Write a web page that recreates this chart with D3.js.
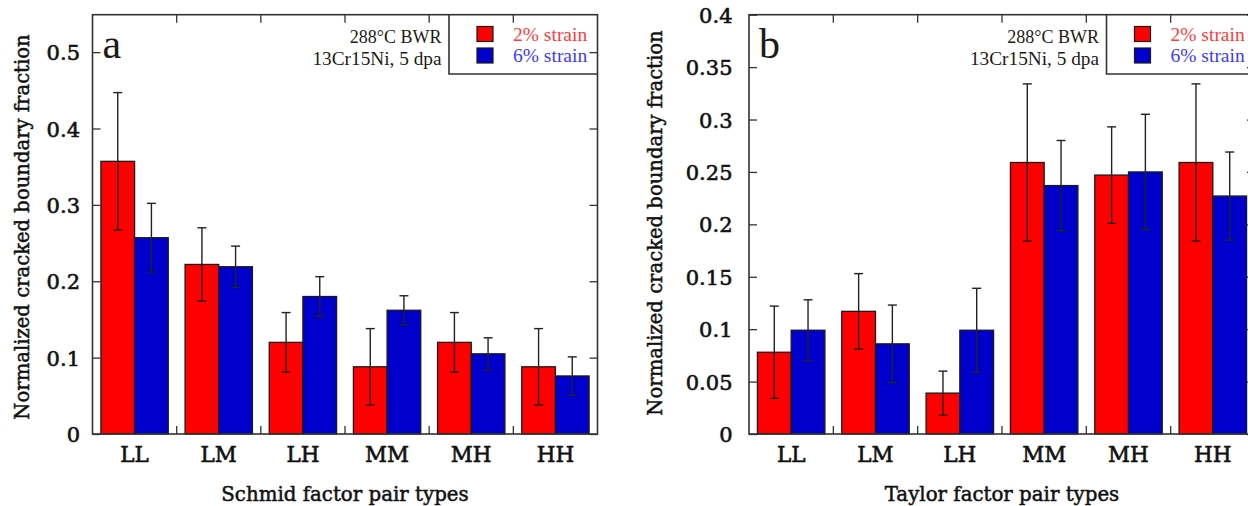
<!DOCTYPE html>
<html>
<head>
<meta charset="utf-8">
<script src="https://cdn.jsdelivr.net/npm/d3@7"></script>
<style>
  html, body { margin: 0; padding: 0; background: #fff; }
  svg { display: block; }
  .heavy { paint-order: stroke; stroke-linejoin: round; }
</style>
</head>
<body>
<svg id="chart" width="1248" height="506"></svg>
<script>
// Grain-boundary pair types (shared by both panels)
const categories = ["LL", "LM", "LH", "MM", "MH", "HH"];
const seriesNames = ["2% strain", "6% strain"];

// Panel a: Schmid factor pair types
const schmid2 = [0.357, 0.222, 0.120, 0.088, 0.120, 0.088];
const schmid2Err = [0.090, 0.048, 0.039, 0.050, 0.039, 0.050];
const schmid6 = [0.257, 0.219, 0.180, 0.162, 0.105, 0.076];
const schmid6Err = [0.045, 0.027, 0.026, 0.019, 0.021, 0.025];
const schmidTicks = [0, 0.1, 0.2, 0.3, 0.4, 0.5];
const schmidTickLabels = ["0", "0.1", "0.2", "0.3", "0.4", "0.5"];

// Panel b: Taylor factor pair types
const taylor2 = [0.078, 0.117, 0.039, 0.259, 0.247, 0.259];
const taylor2Err = [0.044, 0.036, 0.021, 0.075, 0.046, 0.075];
const taylor6 = [0.099, 0.086, 0.099, 0.237, 0.250, 0.227];
const taylor6Err = [0.029, 0.037, 0.040, 0.043, 0.055, 0.042];
const taylorTicks = [0, 0.05, 0.1, 0.15, 0.2, 0.25, 0.3, 0.35, 0.4];
const taylorTickLabels = ["0", "0.05", "0.1", "0.15", "0.2", "0.25", "0.3", "0.35", "0.4"];

const seriesColors = ["#ff0000", "#0000cc"];
const legendTextColors = ["#ff3b3b", "#3b3bff"];
const frameColor = "#333";
const axisFont = "DejaVu Serif";
const noteFont = "Liberation Serif";
const inkColor = "#111";

const svg = d3.select("#chart");

// slightly heavier serif text for axis labelling
function heavy(sel, w) {
  return sel.attr("class", "heavy").attr("stroke", inkColor).attr("stroke-width", w);
}

function drawPanel(p) {
  const g = svg.append("g");
  const x = d3.scaleBand().domain(categories).range([p.left, p.right]).paddingInner(0).paddingOuter(0);
  const xs = d3.scaleBand().domain(seriesNames).range([0, x.bandwidth()]).paddingInner(0).paddingOuter(0.25);
  const y = d3.scaleLinear().domain(p.yDomain).range([p.bottom, p.top]);

  const rows = [];
  categories.forEach((c, i) => {
    rows.push({ cat: c, s: 0, v: p.v2[i], e: p.e2[i] });
    rows.push({ cat: c, s: 1, v: p.v6[i], e: p.e6[i] });
  });

  // bars
  g.selectAll("rect.bar").data(rows).join("rect")
    .attr("class", "bar")
    .attr("x", d => x(d.cat) + xs(seriesNames[d.s]))
    .attr("width", xs.bandwidth())
    .attr("y", d => y(d.v))
    .attr("height", d => y(0) - y(d.v))
    .attr("fill", d => seriesColors[d.s])
    .attr("stroke", "#1a1a1a")
    .attr("stroke-width", 1.3);

  // error bars
  const cap = 4.5;
  const eb = g.selectAll("g.err").data(rows).join("g").attr("class", "err")
    .attr("stroke", "#222").attr("stroke-width", 1.4);
  const cx = d => x(d.cat) + xs(seriesNames[d.s]) + xs.bandwidth() / 2;
  eb.append("line").attr("x1", cx).attr("x2", cx)
    .attr("y1", d => y(d.v + d.e)).attr("y2", d => y(d.v - d.e));
  eb.append("line").attr("x1", d => cx(d) - cap).attr("x2", d => cx(d) + cap)
    .attr("y1", d => y(d.v + d.e)).attr("y2", d => y(d.v + d.e));
  eb.append("line").attr("x1", d => cx(d) - cap).attr("x2", d => cx(d) + cap)
    .attr("y1", d => y(d.v - d.e)).attr("y2", d => y(d.v - d.e));

  // left axis with inward ticks
  const yAxis = d3.axisLeft(y).tickValues(p.ticks).tickSize(-8)
    .tickFormat((d, i) => p.tickLabels[i]).tickPadding(p.labelGap);
  const ga = g.append("g").attr("transform", `translate(${p.left},0)`).call(yAxis);
  ga.select(".domain").remove();
  ga.selectAll(".tick line").attr("stroke", frameColor).attr("stroke-width", 1.3);
  heavy(ga.selectAll(".tick text"), 0.6).attr("font-family", axisFont).attr("font-size", 21)
    .attr("fill", inkColor).attr("dy", "0.36em");

  // right mirror ticks
  const gr = g.append("g").attr("transform", `translate(${p.right},0)`)
    .call(d3.axisRight(y).tickValues(p.ticks).tickSize(-8).tickFormat(""));
  gr.select(".domain").remove();
  gr.selectAll(".tick line").attr("stroke", frameColor).attr("stroke-width", 1.3);

  // category boundary ticks on bottom and top
  const bounds = categories.slice(1).map(c => x(c));
  g.selectAll("line.bt").data(bounds).join("line").attr("class", "bt")
    .attr("x1", d => d).attr("x2", d => d).attr("y1", p.bottom).attr("y2", p.bottom - 8)
    .attr("stroke", frameColor).attr("stroke-width", 1.3);
  g.selectAll("line.tt").data(bounds).join("line").attr("class", "tt")
    .attr("x1", d => d).attr("x2", d => d).attr("y1", p.top).attr("y2", p.top + 8)
    .attr("stroke", frameColor).attr("stroke-width", 1.3);

  // category labels
  heavy(g.selectAll("text.cat").data(categories).join("text"), 0.6)
    .attr("x", d => x(d) + x.bandwidth() / 2).attr("y", 462)
    .attr("text-anchor", "middle").attr("font-family", axisFont).attr("font-size", 21.5)
    .attr("fill", inkColor).text(d => d);

  // frame
  g.append("rect").attr("x", p.left).attr("y", p.top)
    .attr("width", p.right - p.left).attr("height", p.bottom - p.top)
    .attr("fill", "none").attr("stroke", frameColor).attr("stroke-width", 1.6);

  // axis titles
  heavy(g.append("text"), 0.5).attr("x", (p.left + p.right) / 2).attr("y", 501)
    .attr("text-anchor", "middle").attr("font-family", axisFont).attr("font-size", 19.8)
    .attr("fill", inkColor).text(p.xTitle);
  heavy(g.append("text"), 0.5).attr("transform", `translate(${p.yTitleX},${p.yTitleY}) rotate(-90)`)
    .attr("text-anchor", "middle").attr("font-family", axisFont).attr("font-size", 19.6)
    .attr("fill", inkColor).text("Normalized cracked boundary fraction");

  // panel letter
  g.append("text").attr("x", p.left + 10).attr("y", 58)
    .attr("font-family", noteFont).attr("font-size", 42).attr("fill", "#1e1a14").text(p.letter);

  // legend box
  const lgX = p.right - 148.5;
  const lgB = 74;
  g.append("path")
    .attr("d", `M${lgX},${p.top} V${lgB} H${p.right}`)
    .attr("fill", "none").attr("stroke", frameColor).attr("stroke-width", 1.6);
  seriesNames.forEach((s, i) => {
    g.append("rect").attr("x", lgX + 28).attr("y", 26.5 + i * 21.5)
      .attr("width", 16).attr("height", 15)
      .attr("fill", seriesColors[i]).attr("stroke", "#1a1a1a").attr("stroke-width", 1.2);
    g.append("text").attr("x", lgX + 64).attr("y", 40.5 + i * 21.5)
      .attr("font-family", noteFont).attr("font-size", 19.5)
      .attr("fill", legendTextColors[i]).text(s);
  });

  // condition note
  g.append("text").attr("x", lgX - 7.5).attr("y", 43).attr("text-anchor", "end")
    .attr("font-family", noteFont).attr("font-size", 18).attr("fill", "#1e1a14").text("288°C BWR");
  g.append("text").attr("x", lgX - 7.5).attr("y", 65).attr("text-anchor", "end")
    .attr("font-family", noteFont).attr("font-size", 19.3).attr("fill", "#1e1a14").text("13Cr15Ni, 5 dpa");
}

drawPanel({
  left: 92.5, right: 597.5, top: 14.7, bottom: 434,
  yDomain: [0, 0.549], ticks: schmidTicks, tickLabels: schmidTickLabels, labelGap: 12.5,
  v2: schmid2, e2: schmid2Err, v6: schmid6, e6: schmid6Err,
  xTitle: "Schmid factor pair types", yTitleX: 29, yTitleY: 227, letter: "a"
});

drawPanel({
  left: 749, right: 1255, top: 14.7, bottom: 434,
  yDomain: [0, 0.4], ticks: taylorTicks, tickLabels: taylorTickLabels, labelGap: 16.5,
  v2: taylor2, e2: taylor2Err, v6: taylor6, e6: taylor6Err,
  xTitle: "Taylor factor pair types", yTitleX: 662, yTitleY: 223, letter: "b"
});
</script>
</body>
</html>
